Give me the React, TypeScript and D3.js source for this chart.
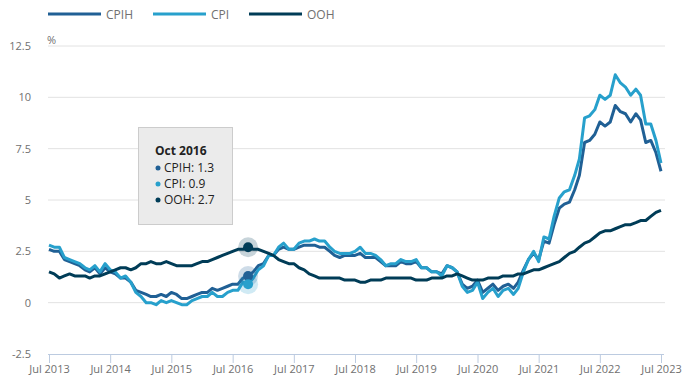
import React, { useEffect, useRef } from "react";
import * as d3 from "d3";

// monthly 12-month rates, Jul 2013 .. Jul 2023
const firstMonth = new Date(2013, 6, 1);
const lastMonth = new Date(2023, 6, 1);

const cpih = [
  2.6, 2.5, 2.5, 2.1, 2.0, 1.9,
  1.8, 1.6, 1.5, 1.7, 1.4, 1.7, 1.5, 1.4, 1.2, 1.2, 1.0, 0.6,
  0.5, 0.4, 0.3, 0.3, 0.4, 0.3, 0.5, 0.4, 0.2, 0.2, 0.3, 0.4,
  0.5, 0.5, 0.7, 0.6, 0.7, 0.8, 0.9, 0.9, 1.2, 1.3, 1.5, 1.8,
  1.9, 2.3, 2.3, 2.6, 2.7, 2.6, 2.6, 2.7, 2.8, 2.8, 2.8, 2.7,
  2.7, 2.5, 2.3, 2.2, 2.3, 2.3, 2.3, 2.4, 2.2, 2.2, 2.2, 2.0,
  1.8, 1.8, 1.8, 2.0, 1.9, 1.9, 2.0, 1.7, 1.7, 1.5, 1.5, 1.4,
  1.8, 1.7, 1.5, 0.9, 0.7, 0.8, 1.1, 0.5, 0.7, 0.9, 0.6, 0.8,
  0.9, 0.7, 1.0, 1.6, 2.1, 2.4, 2.1, 3.0, 2.9, 3.8, 4.6, 4.8,
  4.9, 5.5, 6.2, 7.8, 7.9, 8.2, 8.8, 8.6, 8.8, 9.6, 9.3, 9.2,
  8.8, 9.2, 8.9, 7.8, 7.9, 7.3, 6.4,
];

const cpi = [
  2.8, 2.7, 2.7, 2.2, 2.1, 2.0,
  1.9, 1.7, 1.6, 1.8, 1.5, 1.9, 1.6, 1.5, 1.2, 1.3, 1.0, 0.5,
  0.3, 0.0, 0.0, -0.1, 0.1, 0.0, 0.1, 0.0, -0.1, -0.1, 0.1, 0.2,
  0.3, 0.3, 0.5, 0.3, 0.3, 0.5, 0.6, 0.6, 1.0, 0.9, 1.2, 1.6,
  1.8, 2.3, 2.3, 2.7, 2.9, 2.6, 2.6, 2.9, 3.0, 3.0, 3.1, 3.0,
  3.0, 2.7, 2.5, 2.4, 2.4, 2.4, 2.5, 2.7, 2.4, 2.4, 2.3, 2.1,
  1.8, 1.9, 1.9, 2.1, 2.0, 2.0, 2.1, 1.7, 1.7, 1.5, 1.5, 1.3,
  1.8, 1.7, 1.5, 0.8, 0.5, 0.6, 1.0, 0.2, 0.5, 0.7, 0.3, 0.6,
  0.7, 0.4, 0.7, 1.5, 2.1, 2.5, 2.0, 3.2, 3.1, 4.2, 5.1, 5.4,
  5.5, 6.2, 7.0, 9.0, 9.1, 9.4, 10.1, 9.9, 10.1, 11.1, 10.7, 10.5,
  10.1, 10.4, 10.1, 8.7, 8.7, 7.9, 6.8,
];

const ooh = [
  1.5, 1.4, 1.2, 1.3, 1.4, 1.3,
  1.3, 1.3, 1.2, 1.3, 1.3, 1.4, 1.5, 1.6, 1.7, 1.7, 1.6, 1.7,
  1.9, 1.9, 2.0, 1.9, 1.9, 2.0, 1.9, 1.8, 1.8, 1.8, 1.8, 1.9,
  2.0, 2.0, 2.1, 2.2, 2.3, 2.4, 2.5, 2.6, 2.6, 2.7, 2.6, 2.6,
  2.5, 2.4, 2.3, 2.1, 2.0, 1.9, 1.9, 1.7, 1.6, 1.4, 1.3, 1.2,
  1.2, 1.2, 1.2, 1.2, 1.1, 1.1, 1.1, 1.0, 1.0, 1.1, 1.1, 1.1,
  1.2, 1.2, 1.2, 1.2, 1.2, 1.2, 1.1, 1.1, 1.1, 1.2, 1.2, 1.2,
  1.3, 1.3, 1.4, 1.3, 1.2, 1.1, 1.1, 1.1, 1.2, 1.2, 1.2, 1.3,
  1.3, 1.3, 1.4, 1.4, 1.5, 1.6, 1.6, 1.7, 1.8, 1.9, 2.0, 2.2,
  2.4, 2.5, 2.7, 2.9, 3.0, 3.2, 3.4, 3.5, 3.5, 3.6, 3.7, 3.8,
  3.8, 3.9, 4.0, 4.0, 4.2, 4.4, 4.5,
];

const seriesNames = ["CPIH", "CPI", "OOH"];
const seriesColors = ["#206095", "#27a0cc", "#003c57"];
const yTicks = [-2.5, 0, 2.5, 5, 7.5, 10, 12.5];
const highlightMonth = new Date(2016, 9, 1);

const FONT = "'Open Sans', sans-serif";

export default function App() {
  const ref = useRef<SVGSVGElement>(null);

  useEffect(() => {
    const svg = d3.select(ref.current);
    svg.selectAll("*").remove();

    const months = d3.timeMonth.range(firstMonth, d3.timeMonth.offset(lastMonth, 1));
    const allSeries = [cpih, cpi, ooh];

    const x = d3.scaleTime().domain([firstMonth, lastMonth]).range([49, 661]);
    const y = d3.scaleLinear().domain([-2.5, 12.5]).range([354, 46]);

    // gridlines
    svg.append("g")
      .selectAll("line")
      .data(yTicks.filter((t) => t > -2.5))
      .enter()
      .append("line")
      .attr("x1", 48)
      .attr("x2", 665)
      .attr("y1", (d) => y(d))
      .attr("y2", (d) => y(d))
      .attr("stroke", "#e2e2e2")
      .attr("stroke-width", 1);

    // y labels
    svg.append("g")
      .selectAll("text")
      .data(yTicks)
      .enter()
      .append("text")
      .attr("x", 31)
      .attr("y", (d) => y(d) + 4)
      .attr("text-anchor", "end")
      .attr("font-family", FONT)
      .attr("font-size", 11)
      .attr("fill", "#707070")
      .text((d) => String(d));

    svg.append("text")
      .attr("x", 47)
      .attr("y", 44)
      .attr("font-family", FONT)
      .attr("font-size", 11)
      .attr("fill", "#707070")
      .text("%");

    // x axis
    const xAxis = d3.axisBottom(x)
      .tickValues(d3.range(2013, 2024).map((yr) => new Date(yr, 6, 1)))
      .tickFormat((d) => d3.timeFormat("Jul %Y")(d as Date))
      .tickSize(9)
      .tickSizeOuter(0);

    const xg = svg.append("g").attr("transform", `translate(0,${y(-2.5)})`).call(xAxis);
    xg.select(".domain").attr("stroke", "#bccbe0").attr("d", "M48,0.5H664");
    xg.selectAll(".tick line").attr("stroke", "#bccbe0");
    xg.selectAll(".tick text")
      .attr("font-family", FONT)
      .attr("font-size", 11)
      .attr("fill", "#707070")
      .attr("dy", "0.9em")
      .attr("y", 9);

    // lines
    const line = d3.line<number>()
      .x((_, i) => x(months[i]))
      .y((d) => y(d));

    allSeries.forEach((s, i) => {
      svg.append("path")
        .datum(s)
        .attr("fill", "none")
        .attr("stroke", seriesColors[i])
        .attr("stroke-width", 3)
        .attr("stroke-linejoin", "round")
        .attr("d", line);
    });

    // highlight month markers
    const hi = months.findIndex((m) => m.getTime() === highlightMonth.getTime());
    const hx = x(months[hi]);
    allSeries.forEach((s, i) => {
      svg.append("circle")
        .attr("cx", hx)
        .attr("cy", y(s[hi]))
        .attr("r", 10)
        .attr("fill", seriesColors[i])
        .attr("fill-opacity", 0.22);
    });
    allSeries.forEach((s, i) => {
      svg.append("circle")
        .attr("cx", hx)
        .attr("cy", y(s[hi]))
        .attr("r", 5)
        .attr("fill", seriesColors[i]);
    });

    // tooltip
    const tip = svg.append("g").attr("transform", "translate(138,127)");
    tip.append("rect")
      .attr("x", 0.5)
      .attr("y", 0.5)
      .attr("width", 94)
      .attr("height", 97)
      .attr("fill", "#ebebeb")
      .attr("stroke", "#cccccc");
    tip.append("text")
      .attr("x", 17)
      .attr("y", 28)
      .attr("font-family", FONT)
      .attr("font-size", 12)
      .attr("font-weight", "bold")
      .attr("fill", "#222222")
      .text(d3.timeFormat("%b %Y")(highlightMonth));
    seriesNames.forEach((n, i) => {
      const ty = 45 + i * 16;
      tip.append("circle")
        .attr("cx", 20)
        .attr("cy", ty - 4)
        .attr("r", 2.5)
        .attr("fill", seriesColors[i]);
      tip.append("text")
        .attr("x", 26)
        .attr("y", ty)
        .attr("font-family", FONT)
        .attr("font-size", 12)
        .attr("fill", "#222222")
        .text(`${n}: ${allSeries[i][hi]}`);
    });

    // legend
    const legendX = [48, 153, 249];
    seriesNames.forEach((n, i) => {
      const g = svg.append("g").attr("transform", `translate(${legendX[i]},14)`);
      g.append("line")
        .attr("x1", 0)
        .attr("x2", 53)
        .attr("y1", 0)
        .attr("y2", 0)
        .attr("stroke", seriesColors[i])
        .attr("stroke-width", 3);
      g.append("text")
        .attr("x", 58)
        .attr("y", 4.5)
        .attr("font-family", FONT)
        .attr("font-size", 12)
        .attr("fill", "#707070")
        .text(n);
    });
  }, []);

  return (
    <svg
      ref={ref}
      width={700}
      height={392}
      style={{ position: "absolute", left: 0, top: 0, background: "#ffffff" }}
    />
  );
}
